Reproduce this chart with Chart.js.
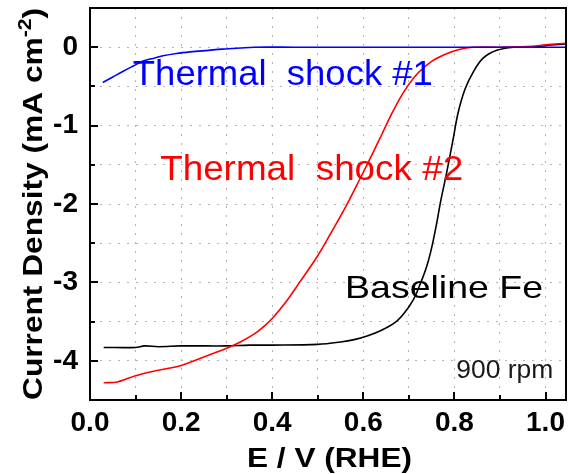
<!DOCTYPE html>
<html>
<head>
<meta charset="utf-8">
<script src="https://cdn.jsdelivr.net/npm/chart.js@4/dist/chart.umd.min.js"></script>
<style>
html, body { margin: 0; padding: 0; background: #fff; }
#wrap { width: 568px; height: 474px; }
</style>
</head>
<body>
<div id="wrap"><canvas id="myChart" width="568" height="474"></canvas></div>
<script>
// Thermal shock #1 (blue)
var shock1E = [0.028, 0.05, 0.072, 0.095, 0.115, 0.14, 0.16, 0.19, 0.22, 0.26, 0.29, 0.33, 0.36, 0.45, 0.6, 0.8, 0.95, 1.045];
var shock1J = [-0.45, -0.38, -0.31, -0.24, -0.18, -0.14, -0.11, -0.08, -0.06, -0.04, -0.025, -0.01, 0, 0, 0, 0, 0, 0];

// Thermal shock #2 (red)
var shock2E = [0.03, 0.06, 0.1, 0.15, 0.2, 0.25, 0.3, 0.33, 0.36, 0.38, 0.4, 0.43, 0.46, 0.5, 0.53, 0.56, 0.59, 0.62, 0.64, 0.665, 0.69, 0.72, 0.75, 0.78, 0.81, 0.84, 0.9, 0.97, 1.0, 1.045];
var shock2J = [-4.28, -4.27, -4.19, -4.12, -4.06, -3.95, -3.84, -3.76, -3.66, -3.57, -3.46, -3.25, -3.00, -2.66, -2.36, -2.05, -1.71, -1.36, -1.12, -0.82, -0.56, -0.33, -0.18, -0.09, -0.03, 0, 0, 0.01, 0.03, 0.05];

// Baseline Fe (black)
var baseE = [0.03, 0.1, 0.12, 0.15, 0.2, 0.3, 0.35, 0.4, 0.5, 0.55, 0.58, 0.61, 0.64, 0.67, 0.69, 0.71, 0.725, 0.74, 0.75, 0.76, 0.77, 0.783, 0.797, 0.808, 0.823, 0.841, 0.863, 0.893, 0.93, 0.97, 1.0, 1.045];
var baseJ = [-3.83, -3.83, -3.81, -3.82, -3.81, -3.81, -3.80, -3.80, -3.79, -3.76, -3.73, -3.68, -3.61, -3.51, -3.39, -3.22, -3.02, -2.78, -2.56, -2.28, -1.96, -1.60, -1.18, -0.84, -0.54, -0.32, -0.14, -0.04, 0, 0, 0.02, 0.04];

var xTicks = [0.0, 0.2, 0.4, 0.6, 0.8, 1.0];
var yTicks = [0, -1, -2, -3, -4];

function toPoints(xs, ys) {
	var pts = [];
	for (var i = 0; i < xs.length; i++) {
		pts.push({ x: xs[i], y: ys[i] });
	}
	return pts;
}

function drawStretched(ctx, text, x, y, font, color, width) {
	ctx.save();
	ctx.font = font;
	var w = ctx.measureText(text).width;
	ctx.translate(x, y);
	ctx.scale(width / w, 1);
	ctx.fillStyle = color;
	ctx.textBaseline = 'alphabetic';
	ctx.textAlign = 'left';
	ctx.fillText(text, 0, 0);
	ctx.restore();
}

// text inside the plot: [text, E, J, font, colour, width]
var _notes = [
	['Thermal  shock #1', 0.094, -0.48, '35px "Liberation Sans", Arial, sans-serif', '#0000ff', 300],
	['Thermal  shock #2', 0.154, -1.69, '35px "Liberation Sans", Arial, sans-serif', '#ff0000', 303],
	['Baseline Fe', 0.560, -3.20, '32px "Liberation Sans", Arial, sans-serif', '#000000', 198],
	['900 rpm', 0.804, -4.22, '26px "Liberation Sans", Arial, sans-serif', '#1a1a1a', 97]
];

var framePlugin = {
	id: 'frame',
	afterDraw: function(chart) {
		var ctx = chart.ctx;
		var a = chart.chartArea;
		var xs = chart.scales.x;
		var ys = chart.scales.y;

		ctx.save();
		ctx.strokeStyle = '#000';
		ctx.lineWidth = 2;
		ctx.beginPath();
		ctx.rect(a.left, a.top, a.right - a.left, a.bottom - a.top);
		ctx.stroke();

		// inward ticks
		for (var i = 0; i <= 10; i++) {
			var px = Math.round(xs.getPixelForValue(i / 10));
			var len = (i % 2 == 0) ? 8 : 5;
			ctx.beginPath();
			ctx.moveTo(px, a.bottom);
			ctx.lineTo(px, a.bottom - len);
			ctx.stroke();
		}
		for (var j = -9; j <= 1; j++) {
			var py = Math.round(ys.getPixelForValue(j / 2));
			var ylen = (j % 2 == 0) ? 8 : 5;
			ctx.beginPath();
			ctx.moveTo(a.left, py);
			ctx.lineTo(a.left + ylen, py);
			ctx.stroke();
		}
		ctx.restore();

		// notes
		_notes.forEach(function(n) {
			drawStretched(ctx, n[0], xs.getPixelForValue(n[1]), ys.getPixelForValue(n[2]), n[3], n[4], n[5]);
		});

		// x title
		drawStretched(ctx, 'E / V (RHE)', 247, 467, 'bold 27px "Liberation Sans", Arial, sans-serif', '#000', 165);

		// y title with superscript
		ctx.save();
		ctx.translate(42, 400);
		ctx.rotate(-Math.PI / 2);
		var mainFont = 'bold 27px "Liberation Sans", Arial, sans-serif';
		var supFont = 'bold 18px "Liberation Sans", Arial, sans-serif';
		var p1 = 'Current Density (mA cm';
		var p2 = '-2';
		var p3 = ')';
		ctx.font = mainFont;
		var w1 = ctx.measureText(p1).width;
		var w3 = ctx.measureText(p3).width;
		ctx.font = supFont;
		var w2 = ctx.measureText(p2).width;
		var sc = 392 / (w1 + w2 + w3);
		ctx.scale(sc, 1);
		ctx.fillStyle = '#000';
		ctx.textBaseline = 'alphabetic';
		ctx.font = mainFont;
		ctx.fillText(p1, 0, 0);
		ctx.font = supFont;
		ctx.fillText(p2, w1, -11);
		ctx.font = mainFont;
		ctx.fillText(p3, w1 + w2, 0);
		ctx.restore();
	}
};

var lineStyle = { borderWidth: 1.6, pointRadius: 0, fill: false, tension: 0.35 };

var _config = {
	type: 'line',
	data: {
		datasets: [
			Object.assign({ label: 'Thermal shock #1', data: toPoints(shock1E, shock1J), borderColor: '#0000ff' }, lineStyle),
			Object.assign({ label: 'Thermal shock #2', data: toPoints(shock2E, shock2J), borderColor: '#ff0000' }, lineStyle),
			Object.assign({ label: 'Baseline Fe', data: toPoints(baseE, baseJ), borderColor: '#000000' }, lineStyle)
		]
	},
	options: {
		responsive: false,
		animation: false,
		devicePixelRatio: 1,
		layout: { padding: { top: 8, right: 2, left: 0, bottom: 0 } },
		plugins: {
			legend: { display: false },
			tooltip: { enabled: false }
		},
		scales: {
			x: {
				type: 'linear',
				min: 0,
				max: 1.045,
				afterFit: function(scale) {
					scale.height = 74;
					scale.paddingLeft = 0;
					scale.paddingRight = 0;
				},
				border: { display: true, color: '#000', width: 2, dash: [2, 7] },
				grid: { color: '#b4b4b4', lineWidth: 1, drawTicks: false },
				ticks: {
					stepSize: 0.1,
					includeBounds: false,
					autoSkip: false,
					maxRotation: 0,
					padding: 6,
					color: '#000',
					font: { family: '"Liberation Sans", Arial, sans-serif', size: 28, weight: 'bold' },
					callback: function(value) {
						var r = Math.round(value * 10) / 10;
						for (var i = 0; i < xTicks.length; i++) {
							if (Math.abs(xTicks[i] - r) < 1e-6) return xTicks[i].toFixed(1);
						}
						return '';
					}
				}
			},
			y: {
				type: 'linear',
				min: -4.5,
				max: 0.5,
				afterFit: function(scale) {
					scale.width = 90;
					scale.paddingTop = 0;
					scale.paddingBottom = 0;
				},
				border: { display: true, color: '#000', width: 2, dash: [2, 7] },
				grid: { color: '#b4b4b4', lineWidth: 1, drawTicks: false },
				ticks: {
					stepSize: 0.5,
					includeBounds: false,
					autoSkip: false,
					padding: 12,
					color: '#000',
					font: { family: '"Liberation Sans", Arial, sans-serif', size: 28, weight: 'bold' },
					callback: function(value) {
						for (var i = 0; i < yTicks.length; i++) {
							if (Math.abs(yTicks[i] - value) < 1e-6) return String(yTicks[i]);
						}
						return '';
					}
				}
			}
		}
	},
	plugins: [framePlugin]
};

var myChart = new Chart(document.getElementById('myChart'), _config);
</script>
</body>
</html>
